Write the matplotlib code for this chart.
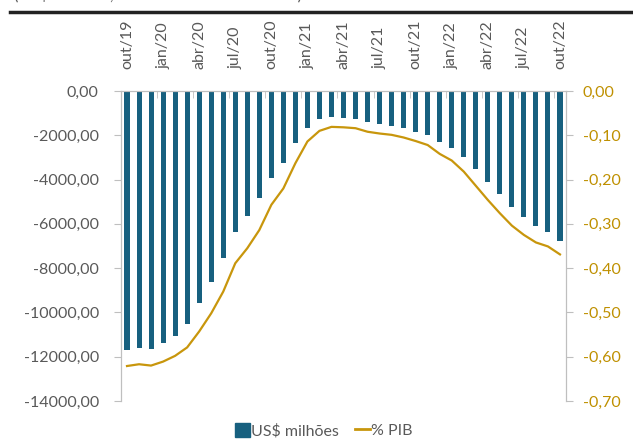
import matplotlib
matplotlib.use("Agg")
import matplotlib.pyplot as plt
from matplotlib.ticker import FuncFormatter, FixedLocator
from matplotlib.lines import Line2D

# dados mensais out/19 .. out/22
months = ["out/19", "nov/19", "dez/19", "jan/20", "fev/20", "mar/20", "abr/20", "mai/20", "jun/20",
          "jul/20", "ago/20", "set/20", "out/20", "nov/20", "dez/20", "jan/21", "fev/21", "mar/21",
          "abr/21", "mai/21", "jun/21", "jul/21", "ago/21", "set/21", "out/21", "nov/21", "dez/21",
          "jan/22", "fev/22", "mar/22", "abr/22", "mai/22", "jun/22", "jul/22", "ago/22", "set/22",
          "out/22"]
usd_milhoes = [-11690, -11590, -11630, -11400, -11060, -10500, -9585, -8620, -7540, -6370,
               -5640, -4845, -3910, -3265, -2360, -1655, -1280, -1160, -1205, -1250,
               -1400, -1490, -1565, -1670, -1835, -1985, -2315, -2555, -2960, -3520,
               -4095, -4665, -5250, -5675, -6095, -6365, -6760]
pct_pib = [-0.621, -0.617, -0.620, -0.611, -0.598, -0.579, -0.543, -0.502, -0.453, -0.389,
           -0.355, -0.314, -0.257, -0.220, -0.163, -0.114, -0.090, -0.081, -0.082, -0.084,
           -0.092, -0.096, -0.099, -0.105, -0.113, -0.122, -0.142, -0.157, -0.182, -0.214,
           -0.246, -0.276, -0.304, -0.325, -0.342, -0.351, -0.369]

BAR = "#17607f"
GOLD = "#c8960c"
GOLD_TXT = "#bf9000"
GREY_TXT = "#595959"
SPINE = "#bfbfbf"

plt.rcParams['font.family'] = ['Lato', 'DejaVu Sans']

fig = plt.figure(figsize=(6.33, 4.47), dpi=100)
ax = fig.add_axes([121 / 633, 1 - 401 / 447, (566 - 121) / 633, (401 - 91) / 447])
ax2 = ax.twinx()

x = list(range(len(months)))
ax.bar(x, usd_milhoes, width=0.42, color=BAR, zorder=2)
ax2.plot(x, pct_pib, color=GOLD, lw=1.6, zorder=3)

ax.set_xlim(-0.5, len(months) - 0.5)
ax.set_ylim(-14000, 0)
ax2.set_ylim(-0.70, 0)

ax.set_yticks(range(-14000, 1, 2000))
ax.yaxis.set_major_formatter(FuncFormatter(lambda v, p: f"{v:.2f}".replace(".", ",")))
ax2.set_yticks([-0.7 + 0.1 * i for i in range(8)])
ax2.yaxis.set_major_formatter(FuncFormatter(lambda v, p: f"{v:.2f}".replace(".", ",").replace("-0,00", "0,00")))

# eixo de categorias no topo
ax.xaxis.tick_top()
ax.set_xticks(x[::3])
ax.set_xticklabels(months[::3], rotation=90, fontsize=11.5, color=GREY_TXT)
ax.tick_params(axis='x', which='major', length=0, pad=16)
ax.xaxis.set_minor_locator(FixedLocator([i + 2.5 for i in range(0, 36, 3)]))
ax.tick_params(axis='x', which='minor', top=True, direction='in', length=5, color=SPINE)

ax.tick_params(axis='y', labelsize=11.5, colors=GREY_TXT, length=5, color=SPINE, pad=11)
ax2.tick_params(axis='y', labelsize=11.5, colors=GOLD_TXT, length=5, color=SPINE, pad=7)
for a in (ax, ax2):
    a.spines['bottom'].set_visible(False)
    a.spines['left'].set_color(SPINE)
    a.spines['right'].set_color(SPINE)
    a.spines['top'].set_color(SPINE)
    a.spines['top'].set_linewidth(0.8)

# linha preta do cabeçalho e título (cortado no topo, como na imagem)
fig.add_artist(Line2D([10 / 633, 1.0], [1 - 12 / 447] * 2, color="#222222", lw=2.5))
fig.text(14 / 633, 1.0, "(US$ milhões, acumulado em 12 meses)", fontsize=12,
         color=GREY_TXT, va='baseline', ha='left')

handles = [plt.Rectangle((0, 0), 1, 1, color=BAR), Line2D([0], [0], color=GOLD, lw=2)]
fig.legend(handles, ["US$ milhões", "% PIB"], loc='center', bbox_to_anchor=(0.512, 0.036),
           ncol=2, frameon=False, fontsize=11.5, labelcolor=GREY_TXT, handlelength=0.9,
           handleheight=0.9, handletextpad=0.1, columnspacing=1.0)

fig.savefig("out.png", dpi=100)
